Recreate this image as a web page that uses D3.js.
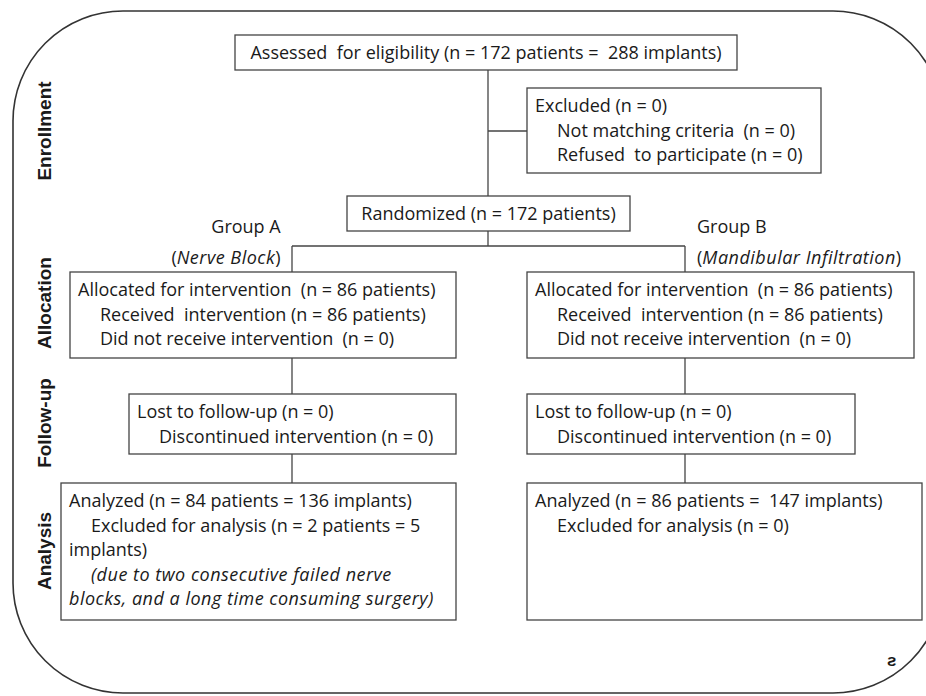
<!DOCTYPE html>
<html>
<head>
<meta charset="utf-8">
<script src="https://cdn.jsdelivr.net/npm/d3@7"></script>
<style>
  body { margin: 0; background: #fff; }
  svg text { font-family: "Open Sans", sans-serif; fill: #1a1a1a; white-space: pre; }
  .stage { font-family: "Liberation Sans", Arial, sans-serif; font-weight: bold; }
</style>
</head>
<body>
<svg id="chart" width="926" height="696"></svg>
<script>
// text content of each box; indent 1 = sub item, it = italic
const enrollText = [
  { t: 'Assessed  for eligibility (n = 172 patients =  288 implants)' }
];
const excludedText = [
  { t: 'Excluded (n = 0)' },
  { t: 'Not matching criteria  (n = 0)', indent: 1 },
  { t: 'Refused  to participate (n = 0)', indent: 1 }
];
const randomText = [{ t: 'Randomized (n = 172 patients)' }];
const allocText = [
  { t: 'Allocated for intervention  (n = 86 patients)' },
  { t: 'Received  intervention (n = 86 patients)', indent: 1 },
  { t: 'Did not receive intervention  (n = 0)', indent: 1 }
];
const followText = [
  { t: 'Lost to follow-up (n = 0)' },
  { t: 'Discontinued intervention (n = 0)', indent: 1 }
];
const analysisA = [
  { t: 'Analyzed (n = 84 patients = 136 implants)' },
  { t: 'Excluded for analysis (n = 2 patients = 5', indent: 1 },
  { t: 'implants)' },
  { t: '(due to two consecutive failed nerve', indent: 1, it: true },
  { t: 'blocks, and a long time consuming surgery)', it: true }
];
const analysisB = [
  { t: 'Analyzed (n = 86 patients =  147 implants)' },
  { t: 'Excluded for analysis (n = 0)', indent: 1 }
];
const stages = ['Enrollment', 'Allocation', 'Follow-up', 'Analysis'];
const groups = [
  { name: 'Group A', sub: 'Nerve Block' },
  { name: 'Group B', sub: 'Mandibular Infiltration' }
];

const svg = d3.select('#chart');
const lineH = 24.5;
const fs = 18;

// outer frame with rounded corners
svg.append('rect')
  .attr('x', 13).attr('y', 11)
  .attr('width', 930).attr('height', 682)
  .attr('rx', 110).attr('ry', 110)
  .attr('fill', 'none').attr('stroke', '#333').attr('stroke-width', 1.6);

const boxes = [
  { x: 235, y: 35, w: 502, h: 35, lines: enrollText, center: true },
  { x: 527, y: 88, w: 294, h: 85, lines: excludedText },
  { x: 347, y: 196, w: 283, h: 35, lines: randomText, center: true },
  { x: 70, y: 272, w: 386, h: 86, lines: allocText },
  { x: 527, y: 272, w: 387, h: 86, lines: allocText },
  { x: 129, y: 394, w: 327, h: 60, lines: followText },
  { x: 527, y: 394, w: 328, h: 60, lines: followText },
  { x: 61, y: 483, w: 395, h: 137, lines: analysisA },
  { x: 527, y: 483, w: 395, h: 137, lines: analysisB }
];

// connectors
const colA = 292, colB = 685, mid = 488;
const links = [
  [[mid, 70], [mid, 196]],
  [[mid, 131], [527, 131]],
  [[mid, 231], [mid, 246]],
  [[colA, 246], [colB, 246]],
  [[colA, 246], [colA, 272]],
  [[colB, 246], [colB, 272]],
  [[colA, 358], [colA, 394]],
  [[colB, 358], [colB, 394]],
  [[colA, 454], [colA, 483]],
  [[colB, 454], [colB, 483]]
];
svg.selectAll('.link').data(links).enter().append('path')
  .attr('class', 'link')
  .attr('d', d3.line())
  .attr('fill', 'none').attr('stroke', '#444').attr('stroke-width', 1.3);

const g = svg.selectAll('.box').data(boxes).enter().append('g').attr('class', 'box');
g.append('rect')
  .attr('x', d => d.x).attr('y', d => d.y)
  .attr('width', d => d.w).attr('height', d => d.h)
  .attr('fill', '#fff').attr('stroke', '#444').attr('stroke-width', 1.3);

g.each(function (b) {
  d3.select(this).selectAll('text').data(b.lines).enter().append('text')
    .attr('x', d => b.center ? b.x + b.w / 2 : b.x + 8 + (d.indent ? 22 : 0))
    .attr('y', (d, i) => b.y + 24 + i * lineH)
    .attr('text-anchor', b.center ? 'middle' : 'start')
    .attr('font-size', fs)
    .attr('font-style', d => d.it ? 'italic' : 'normal')
    .attr('letter-spacing', d => d.it ? 0.5 : 0)
    .text(d => d.t);
});

// group labels
const gx = [{ x: 246, anchor: 'middle' }, { x: 697, anchor: 'start' }];
groups.forEach((d, i) => {
  svg.append('text')
    .attr('x', gx[i].x).attr('y', 233)
    .attr('text-anchor', gx[i].anchor)
    .attr('font-size', fs).text(d.name);
  const t = svg.append('text')
    .attr('x', i === 0 ? 226 : 697).attr('y', 264)
    .attr('text-anchor', i === 0 ? 'middle' : 'start')
    .attr('font-size', fs);
  t.append('tspan').text('(');
  t.append('tspan').attr('font-style', 'italic').attr('letter-spacing', 0.5).text(d.sub);
  t.append('tspan').text(')');
});

// stage labels on the left
const stageY = d3.scaleOrdinal().domain(stages).range([131, 303, 423, 551]);
svg.selectAll('.stage').data(stages).enter().append('text')
  .attr('class', 'stage')
  .attr('transform', d => `translate(51, ${stageY(d)}) rotate(-90)`)
  .attr('text-anchor', 'middle')
  .attr('font-size', 19)
  .text(d => d);

// leftover glyph bottom right
svg.append('text').attr('x', 887).attr('y', 666)
  .attr('font-size', 17).attr('font-weight', 'bold').text('ƨ');
</script>
</body>
</html>
